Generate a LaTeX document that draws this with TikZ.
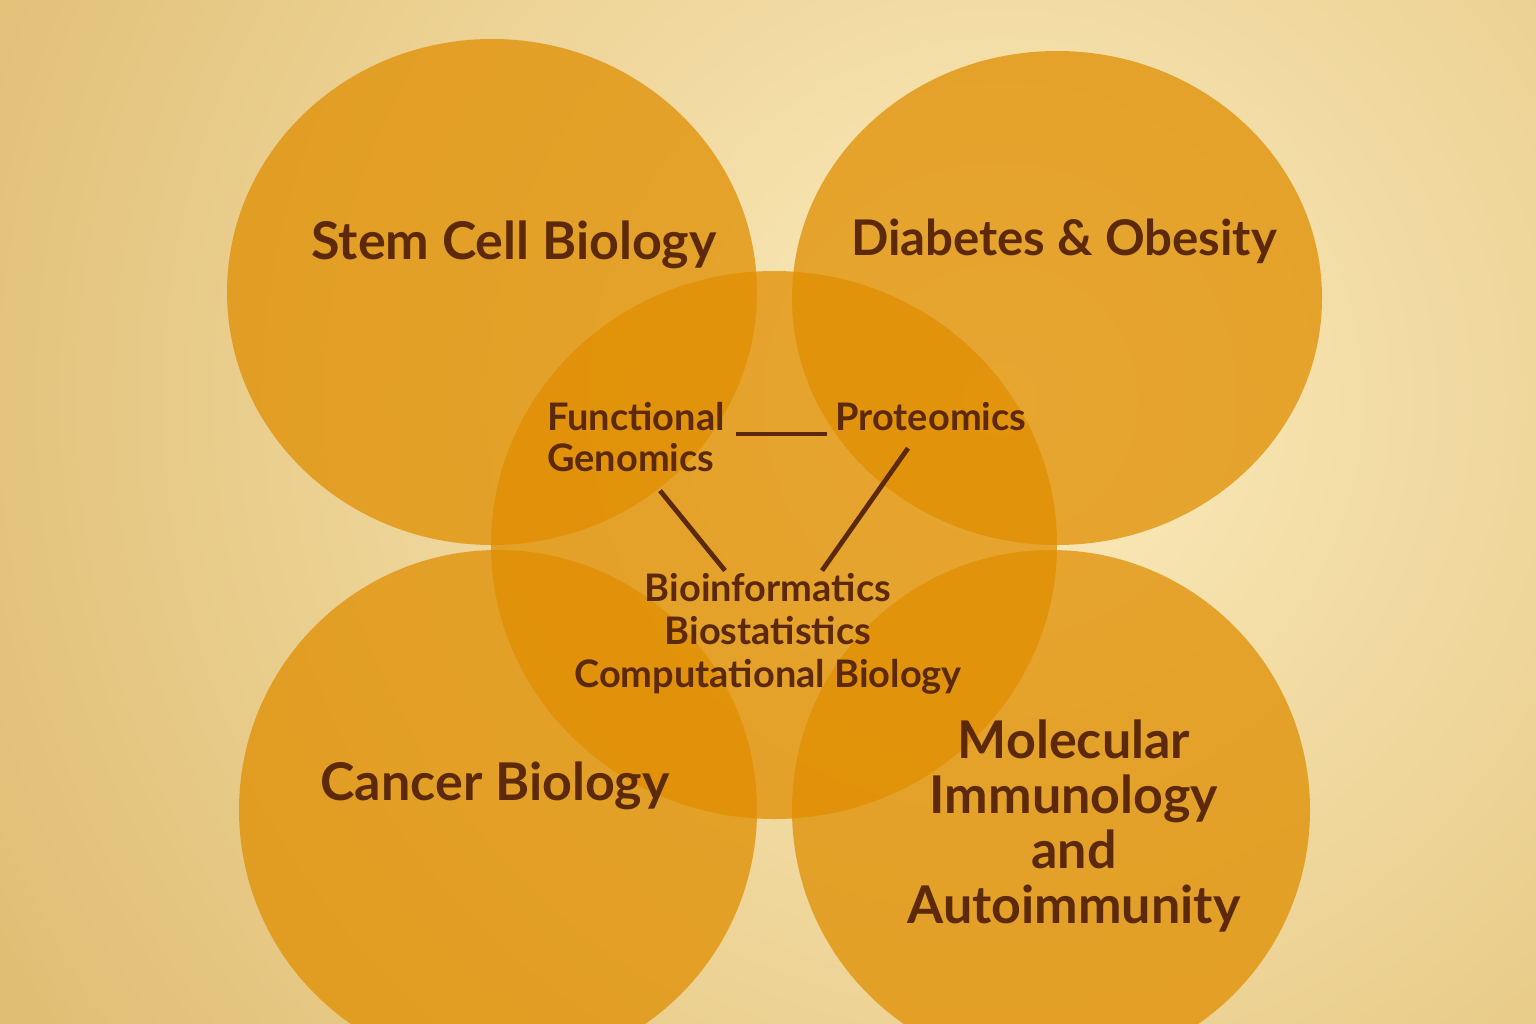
\documentclass[tikz,border=0pt]{standalone}
\usepackage{fontspec}
\setmainfont{Lato}
\usetikzlibrary{positioning, calc}
\definecolor{bgcream}{RGB}{252, 236, 190}
\definecolor{bgtan}{RGB}{224, 190, 116}
\definecolor{disc}{RGB}{224, 142, 0}
\definecolor{ink}{RGB}{92, 42, 10}

\tikzset{
    field/.style={fill=disc, fill opacity=0.74},
    biglabel/.style={text=ink, font=\bfseries\fontsize{37}{44}\selectfont, align=center},
    smalllabel/.style={text=ink, font=\bfseries\fontsize{27}{29}\selectfont, align=center},
    link/.style={draw=ink, line width=3.4pt}
}

\begin{document}
\begin{tikzpicture}[x=0.025cm, y=-0.025cm]
    \useasboundingbox (0,0) rectangle (1536,1024);
    \begin{scope}
        \clip (0,0) rectangle (1536,1024);
        \fill[bgtan] (0,0) rectangle (1536,1024);
        \shade[inner color=bgcream, outer color=bgtan] (1000,400) circle[radius=1150];
    \end{scope}

    % four fields and the shared core
    \fill[field] (492,292) ellipse[x radius=265, y radius=253];
    \fill[field] (1057,298) ellipse[x radius=265, y radius=247];
    \fill[field] (498,810) ellipse[x radius=259, y radius=260];
    \fill[field] (1051,810) ellipse[x radius=259, y radius=260];
    \fill[field] (774,545) ellipse[x radius=283, y radius=274];

    \node[biglabel] (stem) at (514,245) {Stem Cell Biology};
    \node[biglabel, font=\bfseries\fontsize{35}{42}\selectfont] (diab) at (1064,241) {Diabetes \& Obesity};
    \node[biglabel] (canc) at (495,786) {Cancer Biology};
    \node[biglabel, font=\bfseries\fontsize{37}{39}\selectfont] (immu) at (1074,826) {Molecular\\Immunology\\and\\Autoimmunity};

    \node[smalllabel, align=left] (func) at (636,437) {Functional\\Genomics};
    \node[smalllabel] (prot) at (931,417) {Proteomics};
    \node[smalllabel, font=\bfseries\fontsize{27}{30.5}\selectfont] (bioi) at (768,634) {Bioinformatics\\Biostatistics\\Computational Biology};

    \draw[link] ($(func.east)+(6,-3)$) -- ($(func.east -| prot.west)+(-4,-3)$);
    \draw[link] ($(func.south)+(24,14)$) -- ($(bioi.north)+(-43,2)$);
    \draw[link] ($(prot.south)+(-23,12)$) -- ($(bioi.north)+(54,2)$);
\end{tikzpicture}
\end{document}
